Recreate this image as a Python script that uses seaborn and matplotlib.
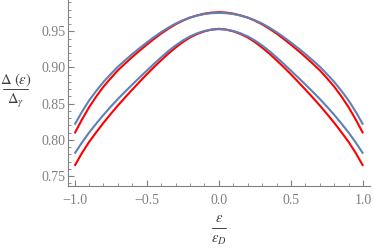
import numpy as np
import pandas as pd
import seaborn as sns
from matplotlib import pyplot as plt
from matplotlib.lines import Line2D
from matplotlib.ticker import MultipleLocator

# values, eps / eps_D from -1 to 1
eps = [-1.0, -0.95, -0.9, -0.85, -0.8, -0.75, -0.7, -0.65, -0.6, -0.55,
       -0.5, -0.45, -0.4, -0.35, -0.3, -0.25, -0.2, -0.15, -0.1, -0.05,
       0.0, 0.05, 0.1, 0.15, 0.2, 0.25, 0.3, 0.35, 0.4, 0.45,
       0.5, 0.55, 0.6, 0.65, 0.7, 0.75, 0.8, 0.85, 0.9, 0.95, 1.0]

upper_blue = [0.8210, 0.8385, 0.8543, 0.8677, 0.8800, 0.8908, 0.9011,
              0.9100, 0.9186, 0.9267, 0.9345, 0.9419, 0.9489, 0.9551,
              0.9607, 0.9652, 0.9690, 0.9718, 0.9739, 0.9751,
              0.9755,
              0.9751, 0.9739, 0.9718, 0.9690, 0.9652, 0.9607, 0.9551,
              0.9489, 0.9419, 0.9345, 0.9267, 0.9186, 0.9100, 0.9011,
              0.8908, 0.8800, 0.8677, 0.8543, 0.8385, 0.8210]
upper_red = [0.8090, 0.8277, 0.8450, 0.8599, 0.8735, 0.8851, 0.8961,
             0.9055, 0.9146, 0.9232, 0.9315, 0.9394, 0.9469, 0.9536,
             0.9597, 0.9647, 0.9690, 0.9720, 0.9744, 0.9759,
             0.9765,
             0.9759, 0.9744, 0.9720, 0.9690, 0.9647, 0.9597, 0.9536,
             0.9469, 0.9394, 0.9315, 0.9232, 0.9146, 0.9055, 0.8961,
             0.8851, 0.8735, 0.8599, 0.8450, 0.8277, 0.8090]
lower_blue = [0.7810, 0.7960, 0.8100, 0.8225, 0.8345, 0.8457, 0.8565,
              0.8666, 0.8765, 0.8861, 0.8955, 0.9050, 0.9140, 0.9227,
              0.9305, 0.9373, 0.9430, 0.9473, 0.9505, 0.9524,
              0.9530,
              0.9524, 0.9505, 0.9473, 0.9430, 0.9373, 0.9305, 0.9227,
              0.9140, 0.9050, 0.8955, 0.8861, 0.8765, 0.8666, 0.8565,
              0.8457, 0.8345, 0.8225, 0.8100, 0.7960, 0.7810]
lower_red = [0.7640, 0.7815, 0.7970, 0.8105, 0.8235, 0.8357, 0.8475,
             0.8586, 0.8695, 0.8801, 0.8905, 0.9005, 0.9100, 0.9192,
             0.9275, 0.9351, 0.9415, 0.9463, 0.9500, 0.9524,
             0.9535,
             0.9524, 0.9500, 0.9463, 0.9415, 0.9351, 0.9275, 0.9192,
             0.9100, 0.9005, 0.8905, 0.8801, 0.8695, 0.8586, 0.8475,
             0.8357, 0.8235, 0.8105, 0.7970, 0.7815, 0.7640]

x_ticks = [-1.0, -0.5, 0.0, 0.5, 1.0]
x_tick_labels = ['\u22121.0', '\u22120.5', '0.0', '0.5', '1.0']
y_ticks = [0.75, 0.80, 0.85, 0.90, 0.95]
y_tick_labels = ['0.75', '0.80', '0.85', '0.90', '0.95']

RED = '#ff0000'
BLUE = '#5e81b5'
GRAY = '#808080'
TEXT = '#404040'

W, H = 374, 250

sns.set_style('ticks')
plt.rcParams['font.family'] = ['Liberation Serif', 'DejaVu Serif']
plt.rcParams['mathtext.fontset'] = 'stix'

fig = plt.figure(figsize=(W / 100, H / 100), dpi=100)
ax = fig.add_axes([68 / W, 1 - 185.7 / H, 302 / W, 185.7 / H])

df = pd.DataFrame({'eps': eps,
                   'upper_red': upper_red, 'lower_red': lower_red,
                   'upper_blue': upper_blue, 'lower_blue': lower_blue})

for col, color in [('upper_red', RED), ('lower_red', RED),
                   ('upper_blue', BLUE), ('lower_blue', BLUE)]:
    sns.lineplot(data=df, x='eps', y=col, color=color, lw=1.5, ax=ax,
                 solid_capstyle='butt')

ax.set_xlim(-1.046, 1.048)
ax.set_ylim(0.7366, 0.9933)
ax.set_xlabel('')
ax.set_ylabel('')

ax.set_xticks(x_ticks)
ax.set_xticklabels(x_tick_labels)
ax.set_yticks(y_ticks)
ax.set_yticklabels(y_tick_labels)
ax.xaxis.set_minor_locator(MultipleLocator(0.1))
ax.yaxis.set_minor_locator(MultipleLocator(0.01))
ax.tick_params(which='major', direction='in', length=4, width=0.8,
               color=GRAY, labelcolor=GRAY, labelsize=10)
ax.tick_params(which='minor', direction='in', length=2, width=0.6,
               color=GRAY)
ax.tick_params(axis='x', which='major', pad=6)
ax.tick_params(axis='y', which='major', pad=2)

for side in ['top', 'right']:
    ax.spines[side].set_visible(False)
for side in ['left', 'bottom']:
    ax.spines[side].set_color(GRAY)
    ax.spines[side].set_linewidth(0.8)


def fraction(num, den, xc, y_num, y_bar, y_den, half_w):
    # numerator, bar and denominator placed in figure pixels
    fig.text(xc / W, 1 - y_num / H, num, ha='center', va='center',
             fontsize=10.5, color=TEXT)
    fig.text(xc / W, 1 - y_den / H, den, ha='center', va='center',
             fontsize=10.5, color=TEXT)
    fig.add_artist(Line2D([(xc - half_w) / W, (xc + half_w) / W],
                          [1 - y_bar / H, 1 - y_bar / H],
                          color=TEXT, lw=0.7))


fraction(r'$\Delta\ (\epsilon)$', r'$\Delta_\gamma$',
         15.5, 80, 89.3, 101, 12.8)
fraction(r'$\epsilon$', r'$\epsilon_D$',
         218.7, 219, 227.7, 240, 7)

fig.savefig('out.png', dpi=100)
